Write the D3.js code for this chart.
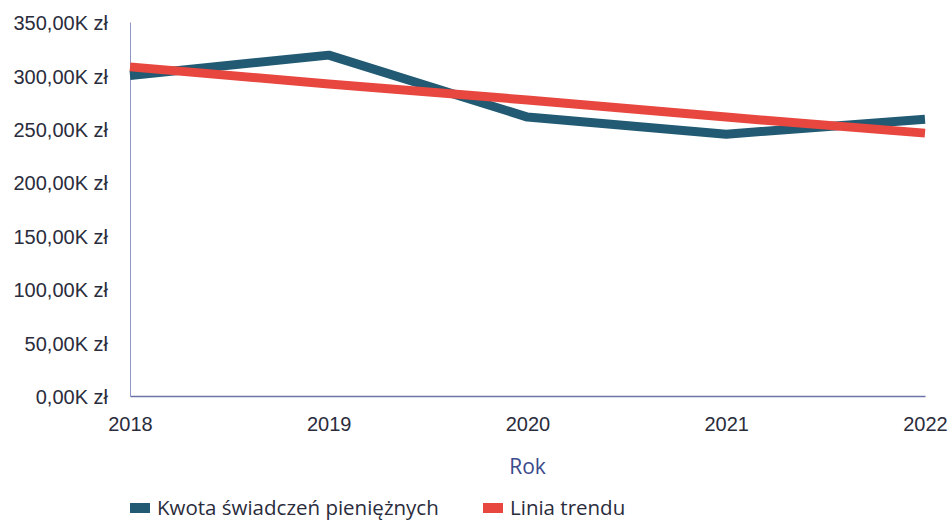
<!DOCTYPE html>
<html lang="pl">
<head>
<meta charset="UTF-8">
<title>Kwota świadczeń pieniężnych</title>
<script src="https://d3js.org/d3.v7.min.js"></script>
<style>
  body { margin: 0; background: #fff; }
  svg { display: block; font-family: "Open Sans", "Noto Sans", sans-serif; }
  .y-axis .tick text { fill: #2a2c3c; font-size: 20px; }
  .x-axis .tick text { fill: #2a2c3c; font-size: 20px; }
  .axis-title { fill: #3b4a8c; font-size: 21px; }
  .legend text { fill: #2a2c3c; font-size: 20.5px; }
</style>
</head>
<body>
<svg width="950" height="524"></svg>
<script>
// Values (thousands of zł)
const years = [2018, 2019, 2020, 2021, 2022];
const amounts = [300, 319, 261, 245, 259];
const trend = [308, 292, 277, 261, 246];
const yTicks = [0, 50, 100, 150, 200, 250, 300, 350];
const seriesNames = ["Kwota świadczeń pieniężnych", "Linia trendu"];
const seriesColors = ["#215a72", "#e8473f"];

const margin = {top: 22, right: 25, bottom: 128, left: 130},
      width = 950 - margin.left - margin.right,
      height = 524 - margin.top - margin.bottom;

const svg = d3.select("svg")
  .append("g")
  .attr("transform", `translate(${margin.left},${margin.top})`);

const x = d3.scalePoint().domain(years).range([0, 795]);
const y = d3.scaleLinear().domain([0, 350]).range([height, 0]);

const fmt = v => d3.format(".2f")(v).replace(".", ",") + "K zł";

// Y axis (labels only, thin line)
const yAxis = svg.append("g")
  .attr("class", "y-axis")
  .call(d3.axisLeft(y).tickValues(yTicks).tickSize(0).tickPadding(22).tickFormat(fmt));
yAxis.select(".domain").attr("stroke", "#8f97c9").attr("stroke-width", 1);
yAxis.selectAll(".tick text").attr("dy", "0.38em");

// X axis
const xAxis = svg.append("g")
  .attr("class", "x-axis")
  .attr("transform", `translate(0,${height})`)
  .call(d3.axisBottom(x).tickSize(0));
xAxis.select(".domain").attr("stroke", "#6d74a8").attr("stroke-width", 1.3);
xAxis.selectAll(".tick text").attr("y", 35).attr("dy", 0);

svg.append("text")
  .attr("class", "axis-title")
  .attr("x", x(2020))
  .attr("y", height + 78)
  .attr("text-anchor", "middle")
  .text("Rok");

const line = d3.line()
  .x((d, i) => x(years[i]))
  .y(d => y(d));

[amounts, trend].forEach((vals, k) => {
  svg.append("path")
    .datum(vals)
    .attr("fill", "none")
    .attr("stroke", seriesColors[k])
    .attr("stroke-width", 9)
    .attr("stroke-linejoin", "round")
    .attr("d", line);
});

// Legend
const legend = svg.selectAll(".legend")
  .data(seriesNames)
  .enter().append("g")
  .attr("class", "legend")
  .attr("transform", (d, i) => `translate(${i === 0 ? 0 : 353},${height + 112})`);

legend.append("rect")
  .attr("x", 0).attr("y", -5)
  .attr("width", 20).attr("height", 10)
  .attr("fill", (d, i) => seriesColors[i]);

legend.append("text")
  .attr("x", 27)
  .attr("y", 0)
  .attr("dy", "0.35em")
  .text(d => d);
</script>
</body>
</html>
